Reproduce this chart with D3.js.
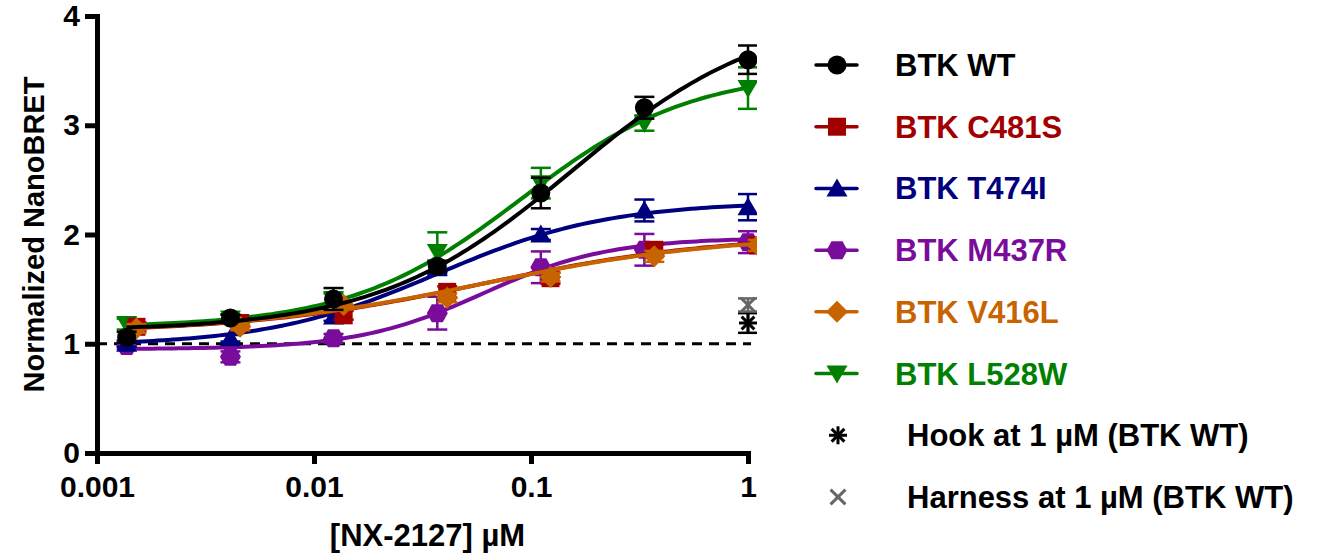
<!DOCTYPE html>
<html>
<head>
<meta charset="utf-8">
<script src="https://cdn.jsdelivr.net/npm/d3@7"></script>
<style>
  body { margin: 0; background: #fff; }
  text { font-family: "Liberation Sans", Arial, sans-serif; font-weight: bold; }
</style>
</head>
<body>
<svg id="chart" width="1322" height="555"></svg>
<script>
// concentrations (µM), 3-fold dilutions
const concentrations = [0.00137, 0.00412, 0.0123, 0.037, 0.111, 0.333, 1];
// C481S and V416L were plotted at slightly higher concentrations
const concentrationsShifted = [0.00152, 0.00457, 0.0137, 0.0411, 0.123, 0.37, 1.11];

const seriesNames = ["BTK WT", "BTK C481S", "BTK T474I", "BTK M437R", "BTK V416L", "BTK L528W"];

// mean normalized NanoBRET
const wtValues    = [1.06, 1.235, 1.41, 1.71, 2.38, 3.16, 3.60];
const c481sValues = [1.155, 1.19, 1.26, 1.475, 1.60, 1.86, 1.90];
const t474iValues = [1.00, 1.05, 1.25, 1.69, 2.00, 2.22, 2.25];
const m437rValues = [0.98, 0.88, 1.05, 1.28, 1.70, 1.86, 1.93];
const v416lValues = [1.14, 1.155, 1.355, 1.42, 1.61, 1.80, 1.90];
const l528wValues = [1.18, 1.23, 1.41, 1.84, 2.47, 3.02, 3.34];

// SEM
const wtErrors    = [0.05, 0.03, 0.10, 0.05, 0.14, 0.10, 0.13];
const c481sErrors = [0.04, 0.03, 0.04, 0.05, 0.05, 0.05, 0.06];
const t474iErrors = [0.03, 0.03, 0.04, 0.05, 0.05, 0.10, 0.12];
const m437rErrors = [0.03, 0.05, 0.04, 0.15, 0.145, 0.145, 0.10];
const v416lErrors = [0.04, 0.03, 0.04, 0.04, 0.04, 0.05, 0.05];
const l528wErrors = [0.05, 0.04, 0.05, 0.18, 0.14, 0.07, 0.19];

// 4PL fit: [bottom, top, EC50 (µM), hill]
const wtFit    = [1.12, 4.05, 0.155, 0.97];
const c481sFit = [1.10, 2.00, 0.06, 0.80];
const t474iFit = [0.98, 2.30, 0.037, 1.10];
const m437rFit = [0.95, 1.97, 0.06, 1.50];
const v416lFit = [1.10, 2.00, 0.06, 0.78];
const l528wFit = [1.15, 3.50, 0.09, 1.10];

// single-point controls at 1 µM (BTK WT)
const controlNames = ["Hook at 1 µM (BTK WT)", "Harness at 1 µM (BTK WT)"];
const controlConc = [1, 1];
const controlValues = [1.19, 1.355];
const controlErrors = [0.09, 0.06];

const xTicks = [0.001, 0.01, 0.1, 1];
const yTicks = [0, 1, 2, 3, 4];

const series = [
  { name: seriesNames[0], conc: concentrations, values: wtValues, errors: wtErrors, fit: wtFit, color: "#000000", shape: "circle" },
  { name: seriesNames[1], conc: concentrationsShifted, values: c481sValues, errors: c481sErrors, fit: c481sFit, color: "#a20000", shape: "square" },
  { name: seriesNames[2], conc: concentrations, values: t474iValues, errors: t474iErrors, fit: t474iFit, color: "#00007f", shape: "triangle" },
  { name: seriesNames[3], conc: concentrations, values: m437rValues, errors: m437rErrors, fit: m437rFit, color: "#7a0c9c", shape: "hexagon" },
  { name: seriesNames[4], conc: concentrationsShifted, values: v416lValues, errors: v416lErrors, fit: v416lFit, color: "#c86400", shape: "diamond" },
  { name: seriesNames[5], conc: concentrations, values: l528wValues, errors: l528wErrors, fit: l528wFit, color: "#008000", shape: "triangleDown" }
];
const drawOrder = [5, 3, 2, 1, 4, 0];

const svg = d3.select("#chart");

const x = d3.scaleLog().domain([0.001, 1]).range([97, 748]);
const y = d3.scaleLinear().domain([0, 4]).range([453, 16]);

function markerPath(shape) {
  const p = d3.path();
  if (shape === "circle") {
    p.arc(0, 0, 9.5, 0, 2 * Math.PI);
  } else if (shape === "square") {
    p.rect(-9, -9, 18, 18);
  } else if (shape === "triangle") {
    p.moveTo(0, -10); p.lineTo(10.5, 8); p.lineTo(-10.5, 8); p.closePath();
  } else if (shape === "triangleDown") {
    p.moveTo(0, 10); p.lineTo(10.5, -8); p.lineTo(-10.5, -8); p.closePath();
  } else if (shape === "diamond") {
    p.moveTo(0, -11); p.lineTo(11, 0); p.lineTo(0, 11); p.lineTo(-11, 0); p.closePath();
  } else if (shape === "hexagon") {
    p.moveTo(-10.5, 0); p.lineTo(-5.5, -9); p.lineTo(5.5, -9); p.lineTo(10.5, 0);
    p.lineTo(5.5, 9); p.lineTo(-5.5, 9); p.closePath();
  }
  return p.toString();
}

function logistic(fit, c) {
  const [bottom, top, ec50, hill] = fit;
  return bottom + (top - bottom) / (1 + Math.pow(ec50 / c, hill));
}

svg.append("rect").attr("width", 1322).attr("height", 555).attr("fill", "#fff");

svg.append("defs").append("clipPath").attr("id", "plotClip")
  .append("rect").attr("x", 85).attr("y", 0).attr("width", 672).attr("height", 470);

// baseline at 1
svg.append("line")
  .attr("x1", x(0.001)).attr("x2", x(1) + 3)
  .attr("y1", y(1)).attr("y2", y(1))
  .attr("stroke", "#000").attr("stroke-width", 3.2)
  .attr("stroke-dasharray", "10,7");

const plot = svg.append("g").attr("clip-path", "url(#plotClip)");

drawOrder.forEach(i => {
  const s = series[i];
  const pts = s.conc.map((c, j) => ({ c: c, v: s.values[j], e: s.errors[j] }));
  const g = plot.append("g");

  // error bars
  const eb = g.selectAll(".eb").data(pts).join("g");
  eb.append("line")
    .attr("x1", d => x(d.c)).attr("x2", d => x(d.c))
    .attr("y1", d => y(d.v - d.e)).attr("y2", d => y(d.v + d.e))
    .attr("stroke", s.color).attr("stroke-width", 2.5);
  [-1, 1].forEach(sign => {
    eb.append("line")
      .attr("x1", d => x(d.c) - 10).attr("x2", d => x(d.c) + 10)
      .attr("y1", d => y(d.v + sign * d.e)).attr("y2", d => y(d.v + sign * d.e))
      .attr("stroke", s.color).attr("stroke-width", 2.5);
  });

  // fitted curve
  const lo = Math.log10(s.conc[0]), hi = Math.log10(s.conc[s.conc.length - 1]);
  const curve = d3.range(0, 121).map(k => {
    const c = Math.pow(10, lo + (hi - lo) * k / 120);
    return [c, logistic(s.fit, c)];
  });
  g.append("path")
    .datum(curve)
    .attr("d", d3.line().x(d => x(d[0])).y(d => y(d[1])))
    .attr("fill", "none").attr("stroke", s.color).attr("stroke-width", 4);

  // markers
  g.selectAll(".pt").data(pts).join("path")
    .attr("d", markerPath(s.shape))
    .attr("transform", d => `translate(${x(d.c)},${y(d.v)})`)
    .attr("fill", s.color);
});

// controls: hook (asterisk) and harness (x)
function drawAsterisk(g, cx, cy, r, color) {
  [0, 45, 90, 135].forEach(a => {
    g.append("line")
      .attr("x1", -r).attr("x2", r).attr("y1", 0).attr("y2", 0)
      .attr("transform", `translate(${cx},${cy}) rotate(${a})`)
      .attr("stroke", color).attr("stroke-width", 3);
  });
}
function drawCross(g, cx, cy, r, color) {
  [45, 135].forEach(a => {
    g.append("line")
      .attr("x1", -r).attr("x2", r).attr("y1", 0).attr("y2", 0)
      .attr("transform", `translate(${cx},${cy}) rotate(${a})`)
      .attr("stroke", color).attr("stroke-width", 3);
  });
}
const controlColors = ["#000000", "#666666"];
controlValues.forEach((v, i) => {
  const g = plot.append("g");
  const cx = x(controlConc[i]);
  const e = controlErrors[i];
  g.append("line").attr("x1", cx).attr("x2", cx).attr("y1", y(v - e)).attr("y2", y(v + e))
    .attr("stroke", controlColors[i]).attr("stroke-width", 2.5);
  [-1, 1].forEach(sign => {
    g.append("line").attr("x1", cx - 10).attr("x2", cx + 10)
      .attr("y1", y(v + sign * e)).attr("y2", y(v + sign * e))
      .attr("stroke", controlColors[i]).attr("stroke-width", 2.5);
  });
  if (i === 0) drawAsterisk(g, cx, y(v), 9, controlColors[i]);
  else drawCross(g, cx, y(v), 10, controlColors[i]);
});

// axes
const yAxis = svg.append("g")
  .attr("transform", `translate(${x(0.001)},0)`)
  .call(d3.axisLeft(y).tickValues(yTicks).tickSize(12).tickSizeOuter(0).tickPadding(5).tickFormat(d3.format("d")));
const xAxis = svg.append("g")
  .attr("transform", `translate(0,${y(0)})`)
  .call(d3.axisBottom(x).tickValues(xTicks).tickSize(11).tickSizeOuter(0).tickPadding(12).tickFormat(d3.format("~g")));

[yAxis, xAxis].forEach(a => {
  a.select(".domain").attr("stroke", "#000").attr("stroke-width", 5).attr("stroke-linecap", "square");
  a.selectAll(".tick line").attr("stroke", "#000").attr("stroke-width", 5);
  a.selectAll(".tick text").attr("fill", "#000").style("font-size", "30px")
    .style("font-family", '"Liberation Sans", Arial, sans-serif').style("font-weight", "bold");
});

svg.append("text")
  .attr("transform", `translate(44,${(y(0) + y(4)) / 2}) rotate(-90)`)
  .attr("text-anchor", "middle")
  .style("font-size", "29px")
  .text("Normalized NanoBRET");

svg.append("text")
  .attr("x", (x(0.001) + x(1)) / 2 + 5).attr("y", 546)
  .attr("text-anchor", "middle")
  .style("font-size", "31px")
  .text("[NX-2127] µM");

// legend
const legendY = d3.scalePoint().domain(d3.range(8)).range([65, 497]);
const legend = svg.append("g");
series.forEach((s, i) => {
  const ly = legendY(i);
  legend.append("line").attr("x1", 816).attr("x2", 857).attr("y1", ly).attr("y2", ly)
    .attr("stroke", s.color).attr("stroke-width", 3.5).attr("stroke-linecap", "round");
  legend.append("path").attr("d", markerPath(s.shape))
    .attr("transform", `translate(837,${ly})`).attr("fill", s.color);
  legend.append("text").attr("x", 895).attr("y", ly + 11)
    .attr("fill", s.color).style("font-size", "31px").text(s.name);
});
controlNames.forEach((n, i) => {
  const ly = legendY(6 + i);
  if (i === 0) drawAsterisk(legend, 838, ly, 9, controlColors[i]);
  else drawCross(legend, 838, ly, 10.5, controlColors[i]);
  legend.append("text").attr("x", 907).attr("y", ly + 11)
    .attr("fill", "#000").style("font-size", "31px").text(n);
});
</script>
</body>
</html>
